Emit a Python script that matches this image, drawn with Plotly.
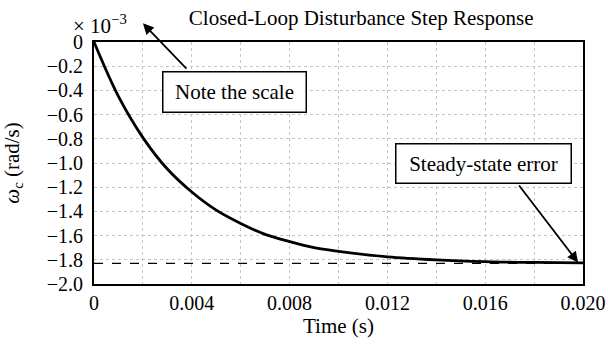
import plotly.graph_objects as go

# Response (omega_c in units of 1e-3 rad/s)
time_s = [0, 0.001, 0.002, 0.003, 0.004, 0.005, 0.006, 0.007, 0.008,
          0.009, 0.010, 0.012, 0.014, 0.016, 0.018, 0.020]
omega_c = [0, -0.45, -0.79, -1.05, -1.24, -1.39, -1.50, -1.59, -1.65,
           -1.70, -1.73, -1.775, -1.80, -1.815, -1.822, -1.826]

# Steady-state level (dashed line)
steady_t = [0, 0.020]
steady_val = [-1.83, -1.83]

# Tick labels
x_ticks = [0, 0.004, 0.008, 0.012, 0.016, 0.020]
x_labels = ["0", "0.004", "0.008", "0.012", "0.016", "0.020"]
y_ticks = [0, -0.2, -0.4, -0.6, -0.8, -1.0, -1.2, -1.4, -1.6, -1.8, -2.0]
y_labels = ["0", "\u22120.2", "\u22120.4", "\u22120.6", "\u22120.8", "\u22121.0",
            "\u22121.2", "\u22121.4", "\u22121.6", "\u22121.8", "\u22122.0"]

font = "Liberation Serif"

fig = go.Figure()
fig.add_trace(go.Scatter(x=steady_t, y=steady_val, mode="lines",
                         line=dict(color="black", width=1.3, dash="dash"),
                         hoverinfo="skip"))
fig.add_trace(go.Scatter(x=time_s, y=omega_c, mode="lines",
                         line=dict(color="black", width=2.8, shape="spline"),
                         hoverinfo="skip"))

# Arrows (tail -> head, in data coordinates)
fig.add_annotation(x=0.002, y=0.154, ax=0.00384, ay=-0.233, xref="x", yref="y",
                   axref="x", ayref="y", text="", showarrow=True,
                   arrowhead=2, arrowsize=1.2, arrowwidth=1.8, arrowcolor="black")
fig.add_annotation(x=0.0198, y=-1.823, ax=0.01734, ay=-1.174, xref="x", yref="y",
                   axref="x", ayref="y", text="", showarrow=True,
                   arrowhead=2, arrowsize=1.2, arrowwidth=1.8, arrowcolor="black")

# Text boxes
fig.add_annotation(x=0.005726, y=-0.411, xref="x", yref="y", text="Note the scale",
                   showarrow=False, bgcolor="white", bordercolor="black",
                   borderwidth=1.5, borderpad=1, width=140, height=37,
                   font=dict(family=font, size=21, color="black"))
fig.add_annotation(x=0.01595, y=-1.001, xref="x", yref="y", text="Steady-state error",
                   showarrow=False, bgcolor="white", bordercolor="black",
                   borderwidth=1.5, borderpad=1, width=172, height=36,
                   font=dict(family=font, size=21, color="black"))

# Scale factor
fig.add_annotation(x=-0.048, y=1.007, xref="paper", yref="paper", xanchor="left",
                   yanchor="bottom", text="\u00d7 10<sup>\u22123</sup>", showarrow=False,
                   font=dict(family=font, size=21, color="black"))

grid = dict(gridcolor="#c4c4c4", gridwidth=1, griddash="dot")

fig.update_layout(
    width=608, height=345,
    margin=dict(l=94, r=25, t=42, b=61),
    paper_bgcolor="white", plot_bgcolor="white",
    showlegend=False,
    font=dict(family=font, size=21, color="black"),
    title=dict(text="Closed-Loop Disturbance Step Response", x=0.594, xanchor="center",
               y=0.948, yanchor="middle", font=dict(family=font, size=21, color="black")),
    xaxis=dict(range=[0, 0.020], tickmode="array", tickvals=x_ticks, ticktext=x_labels,
               showline=True, mirror=True, linecolor="black", linewidth=2,
               ticks="", showgrid=True, zeroline=False, automargin=False, **grid,
               minor=dict(dtick=0.002, tick0=0, showgrid=True, ticks="", **grid),
               title=dict(text="Time (s)", standoff=4, font=dict(family=font, size=21)),
               tickfont=dict(family=font, size=20)),
    yaxis=dict(range=[-2.0, 0], tickmode="array", tickvals=y_ticks, ticktext=y_labels,
               showline=True, mirror=True, linecolor="black", linewidth=2,
               ticks="", showgrid=True, zeroline=False, automargin=False, **grid,
               ticklabelstandoff=5,
               title=dict(text="<i>\u03c9</i><sub>c</sub> (rad/s)", standoff=24,
                          font=dict(family=font, size=21)),
               tickfont=dict(family=font, size=20)),
)

# drop the browser's default page margin so the 608x345 figure fills the window
fig.write_html("out.html", config={"displayModeBar": False},
               post_script="document.body.style.margin = '0';")
